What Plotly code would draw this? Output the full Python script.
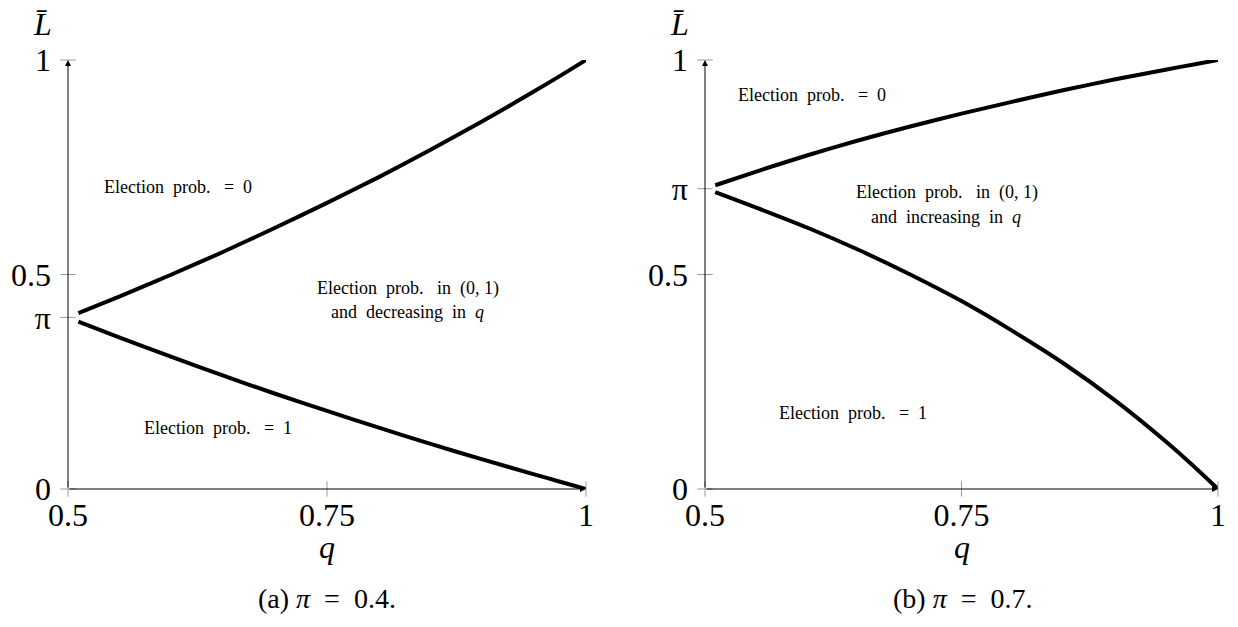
import plotly.graph_objects as go

# ---- data ----
q_vals = [0.51, 0.55, 0.60, 0.65, 0.70, 0.75, 0.80, 0.85, 0.90, 0.95, 0.975, 1.00]

# panel (a) pi = 0.4
upper_a = [0.410, 0.449, 0.500, 0.553, 0.609, 0.667, 0.727, 0.791, 0.857, 0.927, 0.963, 1.000]
lower_a = [0.390, 0.353, 0.308, 0.264, 0.222, 0.182, 0.143, 0.105, 0.069, 0.034, 0.017, 0.000]

# panel (b) pi = 0.7
upper_b = [0.708, 0.740, 0.778, 0.813, 0.845, 0.875, 0.903, 0.930, 0.955, 0.978, 0.989, 1.000]
lower_b = [0.692, 0.656, 0.609, 0.557, 0.500, 0.438, 0.368, 0.292, 0.206, 0.109, 0.056, 0.000]

pi_a = 0.4
pi_b = 0.7

x_ticks = [0.5, 0.75, 1]
x_ticktext = ["0.5", "0.75", "1"]
y_ticks_a = [0, pi_a, 0.5, 1]
y_ticktext_a = ["0", "π", "0.5", "1"]
y_ticks_b = [0, 0.5, pi_b, 1]
y_ticktext_b = ["0", "0.5", "π", "1"]

NB = "\u00a0"
captions = [f"(a) <i>π</i>{NB}{NB}={NB}{NB}0.4.", f"(b) <i>π</i>{NB}{NB}={NB}{NB}0.7."]

lbl_zero = f"Election{NB}{NB}prob.{NB}{NB}{NB}={NB}{NB}0"
lbl_one = f"Election{NB}{NB}prob.{NB}{NB}{NB}={NB}{NB}1"
lbl_mid1 = f"Election{NB}{NB}prob.{NB}{NB}{NB}in{NB}{NB}(0,{NB}1)"
lbl_mid2_a = f"and{NB}{NB}decreasing{NB}{NB}in{NB}{NB}<i>q</i>"
lbl_mid2_b = f"and{NB}{NB}increasing{NB}{NB}in{NB}{NB}<i>q</i>"

FONT = "Liberation Serif"
W, H = 1238, 627
OFF = 8  # page body margin

fig = go.Figure()

panels = [
    dict(xa="x", ya="y", up=upper_a, lo=lower_a, yt=y_ticks_a, ytt=y_ticktext_a),
    dict(xa="x2", ya="y2", up=upper_b, lo=lower_b, yt=y_ticks_b, ytt=y_ticktext_b),
]

for p in panels:
    for ys in (p["up"], p["lo"]):
        fig.add_trace(go.Scatter(
            x=q_vals, y=ys, mode="lines", xaxis=p["xa"], yaxis=p["ya"],
            line=dict(color="black", width=4, shape="spline", smoothing=0.6),
            showlegend=False, hoverinfo="skip", cliponaxis=False))
    fig.add_trace(go.Scatter(
        x=[0.5] * len(p["yt"]), y=p["yt"], mode="markers", xaxis=p["xa"], yaxis=p["ya"],
        marker=dict(symbol="line-ew", size=11, line=dict(color="#999999", width=1)),
        showlegend=False, hoverinfo="skip", cliponaxis=False))
    fig.add_trace(go.Scatter(
        x=x_ticks, y=[0] * len(x_ticks), mode="markers", xaxis=p["xa"], yaxis=p["ya"],
        marker=dict(symbol="line-ns", size=11, line=dict(color="#999999", width=1)),
        showlegend=False, hoverinfo="skip", cliponaxis=False))

def fx(px):
    return (px - OFF) / W

def fy(py):
    return (H - (py - OFF)) / H

ydom = [fy(489), fy(60)]
xdom_a = [fx(68), fx(586)]
xdom_b = [fx(705), fx(1218)]

def xaxis(dom, anchor):
    return dict(domain=dom, range=[0.5, 1], anchor=anchor, showgrid=False, zeroline=False,
                showline=False, ticks="", tickvals=x_ticks, ticktext=x_ticktext,
                automargin=False,
                tickfont=dict(family=FONT, size=32, color="black"), ticklabelstandoff=4)

def yaxis(anchor, tv, tt):
    return dict(domain=ydom, range=[0, 1], anchor=anchor, showgrid=False, zeroline=False,
                showline=False, ticks="", tickvals=tv, ticktext=tt, automargin=False,
                tickfont=dict(family=FONT, size=32, color="black"), ticklabelstandoff=16)

fig.update_layout(
    width=W, height=H, margin=dict(l=0, r=0, t=0, b=0, autoexpand=False),
    paper_bgcolor="white", plot_bgcolor="white",
    xaxis=xaxis(xdom_a, "y"), yaxis=yaxis("x", y_ticks_a, y_ticktext_a),
    xaxis2=xaxis(xdom_b, "y2"), yaxis2=yaxis("x2", y_ticks_b, y_ticktext_b),
    showlegend=False,
)

ann = []
for xr, yr in (("x", "y"), ("x2", "y2")):
    ann.append(dict(x=0.5, y=1, ax=0.5, ay=0, xref=xr, yref=yr, axref=xr, ayref=yr,
                    showarrow=True, arrowhead=2, arrowsize=1.2, arrowwidth=1,
                    arrowcolor="black", text=""))
    ann.append(dict(x=1, y=0, ax=0.5, ay=0, xref=xr, yref=yr, axref=xr, ayref=yr,
                    showarrow=True, arrowhead=2, arrowsize=1.2, arrowwidth=1,
                    arrowcolor="black", text=""))
    ann.append(dict(x=0.5, y=1, xref=xr, yref=yr, text="<i>L\u0304</i>", showarrow=False,
                    xshift=-26, yshift=36, font=dict(family=FONT, size=32, color="black")))
    ann.append(dict(x=0.75, y=0, xref=xr, yref=yr, text="<i>q</i>", showarrow=False,
                    yanchor="middle", yshift=-58, font=dict(family=FONT, size=32, color="black")))

lab_font = dict(family=FONT, size=18, color="black")
texts = [
    ("x", "y", 0.606, 0.704, lbl_zero),
    ("x", "y", 0.828, 0.4685, lbl_mid1),
    ("x", "y", 0.828, 0.4126, lbl_mid2_a),
    ("x", "y", 0.645, 0.142, lbl_one),
    ("x2", "y2", 0.604, 0.918, lbl_zero),
    ("x2", "y2", 0.736, 0.690, lbl_mid1),
    ("x2", "y2", 0.735, 0.634, lbl_mid2_b),
    ("x2", "y2", 0.644, 0.177, lbl_one),
]
for xr, yr, x, y, t in texts:
    ann.append(dict(x=x, y=y, xref=xr, yref=yr, text=t, showarrow=False, font=lab_font))

for cx, cap in ((327, captions[0]), (962, captions[1])):
    ann.append(dict(x=fx(cx), y=fy(598), xref="paper", yref="paper", text=cap,
                    xanchor="center", yanchor="middle", showarrow=False,
                    font=dict(family=FONT, size=28, color="black")))

fig.update_layout(annotations=ann)
fig.write_html("out.html")
